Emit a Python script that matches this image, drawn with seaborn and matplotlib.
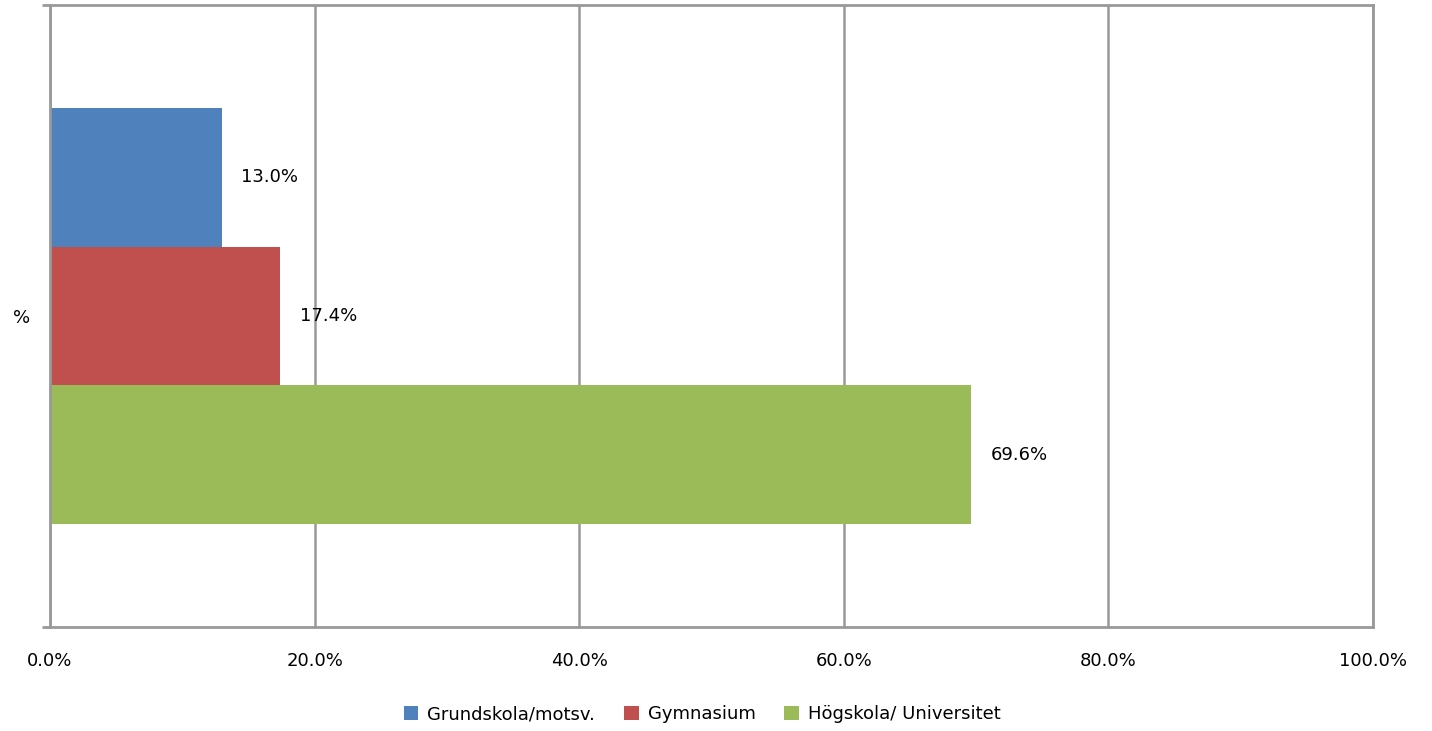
import matplotlib
matplotlib.use("Agg")
import matplotlib.pyplot as plt
import pandas as pd
import seaborn as sns
from matplotlib.ticker import FuncFormatter

# data
kategori = ["%", "%", "%"]
utbildning = ["Grundskola/motsv.", "Gymnasium", "Högskola/ Universitet"]
andel = [13.0, 17.4, 69.6]
farger = ["#4F81BD", "#C0504D", "#9BBB59"]

df = pd.DataFrame({"kat": kategori, "utb": utbildning, "andel": andel})

sns.set_style("white")
plt.rcParams["font.family"] = ["DejaVu Sans"]

fig = plt.figure(figsize=(14.32, 7.31), dpi=100)
ax = fig.add_axes([50 / 1432, 1 - 627 / 731, (1373 - 50) / 1432, 622 / 731])

sns.barplot(data=df, x="andel", y="kat", hue="utb", hue_order=utbildning,
            palette=farger, orient="h", width=0.67, saturation=1,
            linewidth=0, ax=ax, legend=True)

# bars above grid, below spines
for p in ax.patches:
    p.set_zorder(2)

for cont in ax.containers:
    ax.bar_label(cont, labels=[f"{v:.1f}%" for v in cont.datavalues],
                 padding=14, fontsize=13, color="black")

ax.set_xlim(0, 100)
ax.set_ylim(0.5, -0.5)
ax.set_xticks([0, 20, 40, 60, 80, 100])
ax.xaxis.set_major_formatter(FuncFormatter(lambda v, p: f"{v:.1f}%"))
ax.tick_params(axis="x", length=0, pad=18, labelsize=13, labelcolor="black")
ax.tick_params(axis="y", length=0, pad=14, labelsize=13, labelcolor="black")
ax.set_yticks([-0.5, 0.5], minor=True)
ax.tick_params(axis="y", which="minor", left=True, length=6, width=2,
               color="#999999")
ax.set_xlabel("")
ax.set_ylabel("")
ax.grid(axis="x", color="#999999", linewidth=1.8, zorder=0)
ax.set_axisbelow(True)
for s in ax.spines.values():
    s.set_visible(True)
    s.set_color("#999999")
    s.set_linewidth(2)
    s.set_zorder(3)

ax.legend(loc="upper center", bbox_to_anchor=(0.493, -0.1), ncol=3,
          frameon=False, fontsize=13, handlelength=0.8, handleheight=0.8,
          handletextpad=0.5, columnspacing=1.6, labelcolor="black")

fig.savefig("out.png", dpi=100)
